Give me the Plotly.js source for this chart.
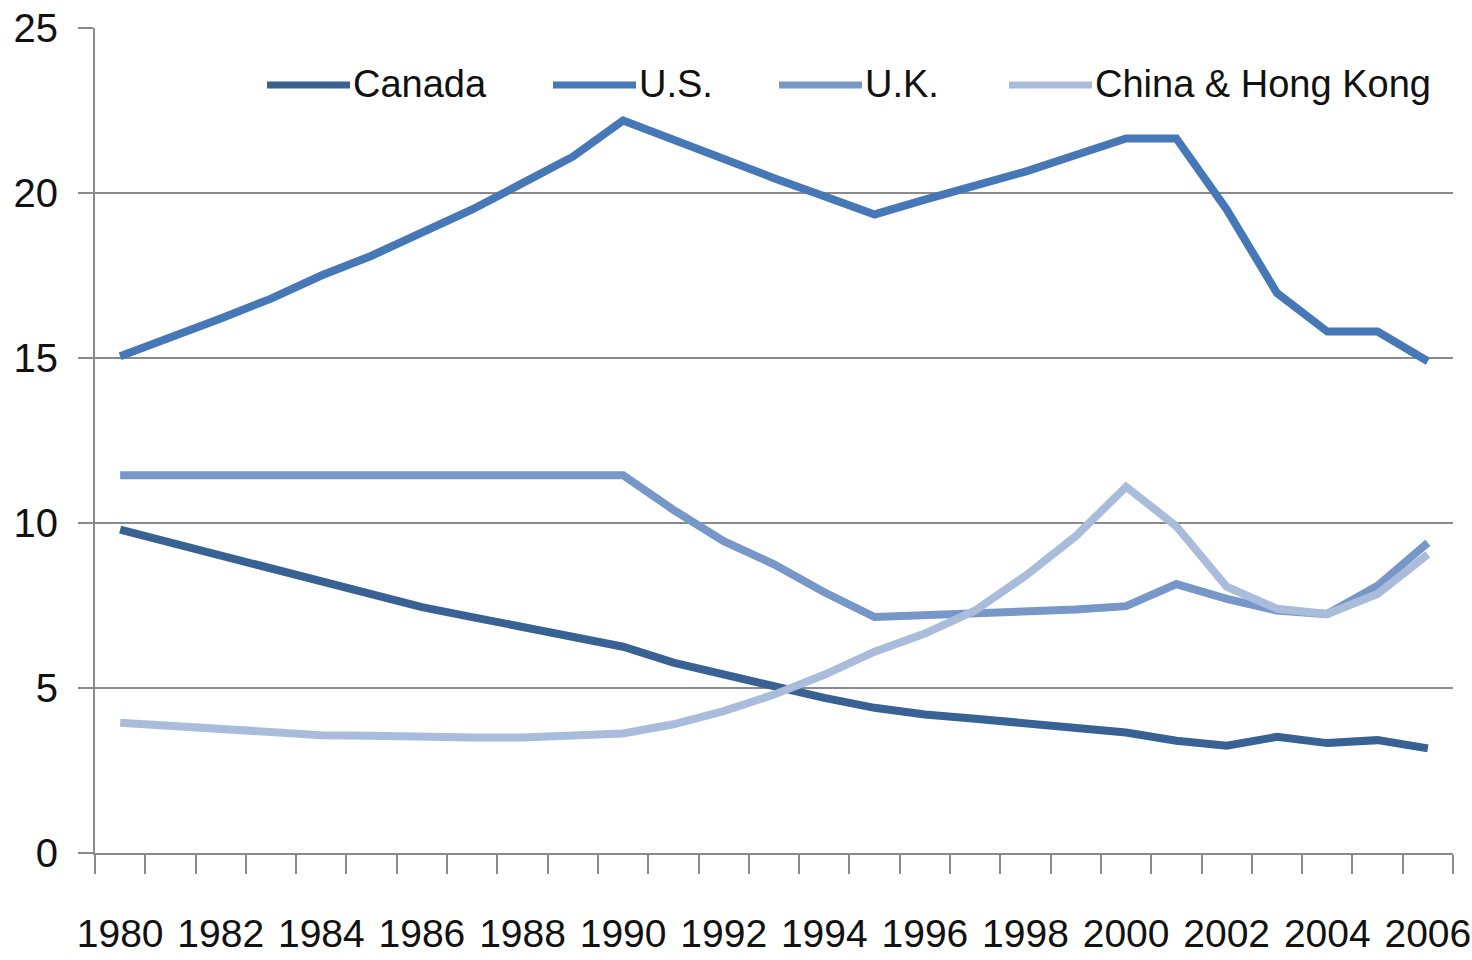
<!DOCTYPE html>
<html lang="en">
<head>
    <meta charset="UTF-8">
    <title>Canada, U.S., U.K., China & Hong Kong</title>
    <script src="https://cdn.plot.ly/plotly-3.0.1.min.js"></script>
    <style>
        body { margin: 0; background: #ffffff; }
        #graph { width: 1472px; height: 960px; }
    </style>
</head>
<body>
    <div id="graph"></div>
    <script>
        var years = [1980, 1981, 1982, 1983, 1984, 1985, 1986, 1987, 1988, 1989,
                     1990, 1991, 1992, 1993, 1994, 1995, 1996, 1997, 1998, 1999,
                     2000, 2001, 2002, 2003, 2004, 2005, 2006];
        var labelYears = [1980, 1982, 1984, 1986, 1988, 1990, 1992, 1994, 1996, 1998, 2000, 2002, 2004, 2006];

        var canada = [9.8, 9.4, 9.0, 8.6, 8.2, 7.8, 7.45, 7.15, 6.85, 6.55,
                      6.25, 5.77, 5.4, 5.05, 4.7, 4.4, 4.2, 4.07, 3.93, 3.8,
                      3.65, 3.4, 3.25, 3.52, 3.33, 3.42, 3.17];
        var us = [15.05, 15.6, 16.2, 16.8, 17.5, 18.1, 18.8, 19.5, 20.3, 21.1,
                  22.2, 21.6, 21.0, 20.45, 19.9, 19.35, 19.8, 20.2, 20.65, 21.15,
                  21.65, 21.65, 19.5, 16.97, 15.8, 15.8, 14.9];
        var uk = [11.45, 11.45, 11.45, 11.45, 11.45, 11.45, 11.45, 11.45, 11.45, 11.45,
                  11.45, 10.4, 9.45, 8.75, 7.9, 7.15, 7.2, 7.25, 7.3, 7.38,
                  7.48, 8.15, 7.7, 7.35, 7.24, 8.1, 9.4];
        var china = [3.95, 3.85, 3.72, 3.63, 3.57, 3.55, 3.5, 3.5, 3.5, 3.55,
                     3.62, 3.9, 4.3, 4.8, 5.4, 6.1, 6.65, 7.35, 8.4, 9.6,
                     11.1, 9.9, 8.07, 7.4, 7.24, 7.85, 9.05];

        var names = ['Canada', 'U.S.', 'U.K.', 'China & Hong Kong'];
        var colors = ['#386194', '#4677b6', '#7797c8', '#aabcdb'];
        var series = [canada, us, uk, china];

        // no narrow (Calibri-like) face available, so regular sans a bit smaller
        var font = 'Liberation Sans, Arial, sans-serif';
        var grey = '#8a8a8a';

        // plot area in pixels, used for the hand-placed legend
        var plotL = 95, plotR = 1453, plotT = 28, plotB = 853;
        function px(x) { return (x - plotL) / (plotR - plotL); }
        function py(y) { return (plotB - y) / (plotB - plotT); }

        var traces = series.map(function (vals, i) {
            return {
                x: years,
                y: vals,
                type: 'scatter',
                mode: 'lines',
                name: names[i],
                line: { color: colors[i], width: 8 },
                showlegend: false
            };
        });

        // legend: line sample + label, placed by hand like the original
        var legendX = [267, 553, 779, 1009];
        var legendY = 85;
        var shapes = [];
        var annotations = [];
        names.forEach(function (n, i) {
            shapes.push({
                type: 'line', xref: 'paper', yref: 'paper',
                x0: px(legendX[i]), x1: px(legendX[i] + 83),
                y0: py(legendY), y1: py(legendY),
                line: { color: colors[i], width: 7 }
            });
            annotations.push({
                xref: 'paper', yref: 'paper',
                x: px(legendX[i] + 84), y: py(legendY - 1),
                xanchor: 'left', yanchor: 'middle',
                text: n, showarrow: false,
                font: { family: font, size: 38, color: '#111111' }
            });
        });

        var boundaries = years.map(function (y) { return y - 0.5; });
        boundaries.push(years[years.length - 1] + 0.5);

        var layout = {
            width: 1472,
            height: 960,
            margin: { l: plotL, r: 1472 - plotR, t: plotT, b: 960 - plotB },
            paper_bgcolor: '#ffffff',
            plot_bgcolor: '#ffffff',
            font: { family: font, size: 40, color: '#111111' },
            showlegend: false,
            xaxis: {
                type: 'linear',
                range: [1979.5, 2006.5],
                tickmode: 'array',
                tickvals: labelYears,
                ticktext: labelYears.map(String),
                ticks: '',
                tickangle: 0,
                ticklabelstandoff: 45,
                ticklabeloverflow: 'allow',
                tickfont: { family: font, size: 39, color: '#111111' },
                showgrid: false,
                zeroline: false,
                showline: true,
                linecolor: grey,
                linewidth: 2,
                minor: {
                    tickmode: 'array',
                    tickvals: boundaries,
                    ticks: 'outside',
                    ticklen: 19,
                    tickwidth: 2,
                    tickcolor: grey,
                    showgrid: false
                },
                fixedrange: true
            },
            yaxis: {
                range: [0, 25],
                tickmode: 'linear',
                tick0: 0,
                dtick: 5,
                ticks: 'outside',
                ticklen: 15,
                tickwidth: 2,
                tickcolor: grey,
                ticklabelstandoff: 12,
                tickfont: { family: font, size: 40, color: '#111111' },
                showgrid: true,
                gridcolor: grey,
                gridwidth: 2,
                zeroline: false,
                showline: true,
                linecolor: grey,
                linewidth: 2,
                fixedrange: true
            },
            shapes: shapes,
            annotations: annotations
        };

        Plotly.newPlot('graph', traces, layout, { displayModeBar: false, staticPlot: true });
    </script>
</body>
</html>
